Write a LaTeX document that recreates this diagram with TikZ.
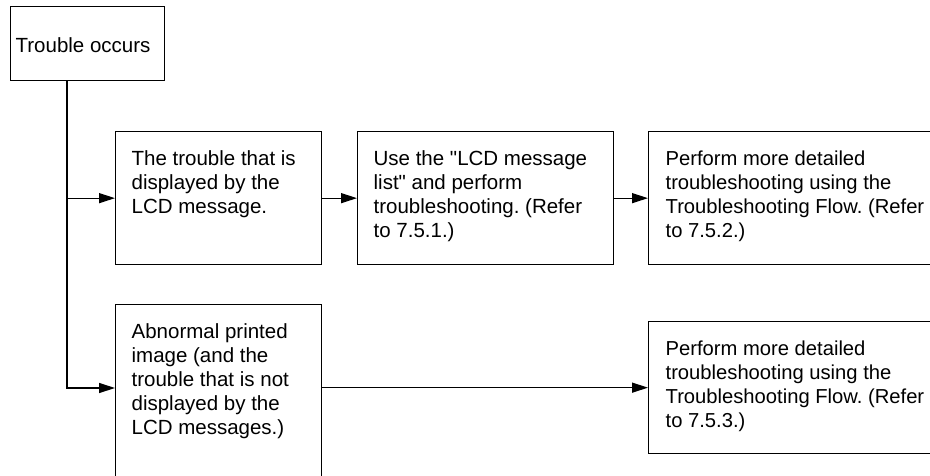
\documentclass[tikz,border=0pt]{standalone}
\usepackage{fontspec}
\setmainfont{Liberation Sans}[Ligatures=TeXOff]
\usetikzlibrary{arrows.meta}
\frenchspacing
\begin{document}
\begin{tikzpicture}[x=1pt,y=-1pt,
  box/.style={draw=black, line width=1.3pt, rectangle, inner ysep=0pt, anchor=north west,
    font=\fontsize{20.5}{24}\selectfont},
  arr/.style={draw=black, line width=1.3pt, -{Triangle[length=16pt,width=10pt]}}]
\useasboundingbox (0,0) rectangle (930,475);
\clip (0,0) rectangle (930,475);
\node[box, inner xsep=5pt] (t) at (10,6)
  {\parbox[c][74pt][t]{144pt}{\rule{0pt}{45.7pt}Trouble occurs}};
\node[box, inner xsep=16pt] (a) at (115,131)
  {\parbox[c][133pt][t]{174pt}{\rule{0pt}{34pt}The trouble that is\\displayed by the\\LCD message.}};
\node[box, inner xsep=16pt] (b) at (357,131)
  {\parbox[c][133pt][t]{224pt}{\rule{0pt}{34pt}Use the "LCD message\\list" and perform\\troubleshooting. (Refer\\to 7.5.1.)}};
\node[box, inner xsep=17pt, font=\fontsize{20.2}{24}\selectfont] (c) at (648,131)
  {\parbox[c][133pt][t]{280pt}{\rule{0pt}{34pt}Perform more detailed\\troubleshooting using the\\Troubleshooting Flow. (Refer\\to 7.5.2.)}};
\node[box, inner xsep=16pt] (d) at (115,304)
  {\parbox[c][185pt][t]{174pt}{\rule{0pt}{34pt}Abnormal printed\\image (and the\\trouble that is not\\displayed by the\\LCD messages.)}};
\node[box, inner xsep=17pt, font=\fontsize{20.2}{24}\selectfont] (e) at (648,321)
  {\parbox[c][132pt][t]{280pt}{\rule{0pt}{34pt}Perform more detailed\\troubleshooting using the\\Troubleshooting Flow. (Refer\\to 7.5.3.)}};
\coordinate (j) at (67,388);
\draw[arr] (t.south west -| j) |- (d.west |- j);
\draw[arr] (j |- a.west) -- (a.west);
\draw[arr] (a) -- (b);
\draw[arr] (b) -- (c);
\draw[arr] (d.east |- e.west) -- (e.west);
\end{tikzpicture}
\end{document}
